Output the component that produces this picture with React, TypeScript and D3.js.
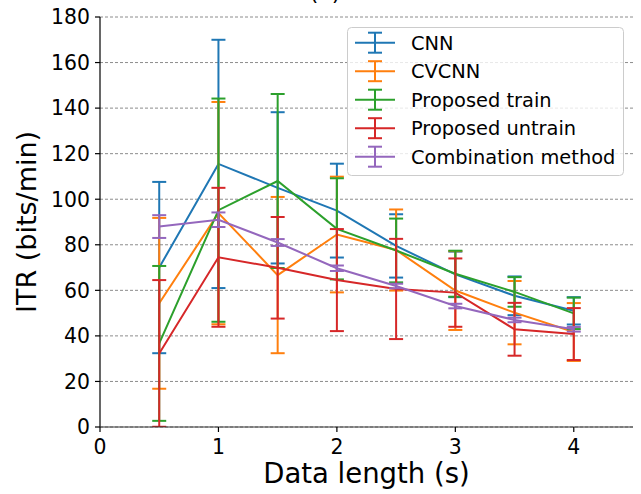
import React from "react";
import * as d3 from "d3";

const dataLength = [0.5, 1, 1.5, 2, 2.5, 3, 3.5, 4];

const cnnMean = [70, 115.5, 105, 95, 79.5, 67, 57.6, 51];
const cnnErr = [37.6, 54.5, 33.2, 20.6, 13.9, 10, 8.5, 6];

const cvcnnMean = [54.3, 93.9, 66.7, 84.5, 77.7, 59.9, 50.2, 41.7];
const cvcnnErr = [37.5, 48.8, 34.3, 25.4, 17.8, 17.3, 13.9, 12.7];

const trainMean = [36.7, 95.2, 108, 87, 77.5, 67.3, 59.3, 49.9];
const trainErr = [34, 49, 38.2, 22.2, 14, 10.1, 6.5, 6.9];

const untrainMean = [32.3, 74.5, 69.9, 64.5, 60.6, 59, 42.9, 40.8];
const untrainErr = [32.2, 30.5, 22.3, 22.4, 22, 15, 11.6, 11.4];

const comboMean = [88, 91, 81, 69.7, 61.9, 53.1, 47, 42.9];
const comboErr = [5, 3.2, 1.5, 1.2, 1, 1, 1, 1];

const seriesNames = ["CNN", "CVCNN", "Proposed train", "Proposed untrain", "Combination method"];
const seriesColors = ["#1f77b4", "#ff7f0e", "#2ca02c", "#d62728", "#9467bd"];
const yTicks = [0, 20, 40, 60, 80, 100, 120, 140, 160, 180];
const xTicks = [0, 1, 2, 3, 4];

const series = [
  { mean: cnnMean, err: cnnErr },
  { mean: cvcnnMean, err: cvcnnErr },
  { mean: trainMean, err: trainErr },
  { mean: untrainMean, err: untrainErr },
  { mean: comboMean, err: comboErr },
];

const W = 641;
const H = 494;
const margin = { top: 17, right: 8, bottom: 67, left: 100 };
const font = "DejaVu Sans, sans-serif";

export default function App() {
  const x = d3.scaleLinear().domain([0, 4.5]).range([margin.left, W - margin.right]);
  const y = d3.scaleLinear().domain([0, 180]).range([H - margin.bottom, margin.top]);

  const line = d3
    .line<number>()
    .x((_, i) => x(dataLength[i]))
    .y((d) => y(d));

  const cap = 7;

  return (
    <svg
      width={W}
      height={H}
      style={{ position: "fixed", left: 0, top: 0, background: "#fff" }}
      fontFamily={font}
    >
      <defs>
        <clipPath id="plot">
          <rect x={margin.left} y={margin.top - 10} width={W - margin.right - margin.left} height={H - margin.bottom - margin.top + 10} />
        </clipPath>
      </defs>
      <text x={325} y={0} textAnchor="middle" fontSize={22}>(a)</text>

      {/* grid */}
      {yTicks.map((t) => (
        <line
          key={"g" + t}
          x1={x(0)}
          x2={x(4.5)}
          y1={y(t)}
          y2={y(t)}
          stroke="#8c8c8c"
          strokeWidth={1}
          strokeDasharray="3,2"
        />
      ))}

      {/* series */}
      <g clipPath="url(#plot)">
        {series.map((s, si) => (
          <g key={si} stroke={seriesColors[si]} strokeWidth={2} fill="none">
            <path d={line(s.mean) || ""} />
            {s.mean.map((m, i) => {
              const cx = x(dataLength[i]);
              const lo = y(m - s.err[i]);
              const hi = y(m + s.err[i]);
              return (
                <g key={i}>
                  <line x1={cx} x2={cx} y1={lo} y2={hi} />
                  <line x1={cx - cap} x2={cx + cap} y1={lo} y2={lo} />
                  <line x1={cx - cap} x2={cx + cap} y1={hi} y2={hi} />
                </g>
              );
            })}
          </g>
        ))}
      </g>

      {/* axes */}
      <line x1={x(0)} x2={x(0)} y1={y(0)} y2={y(180)} stroke="#000" strokeWidth={1.2} />
      <line x1={x(0)} x2={x(4.5)} y1={y(0)} y2={y(0)} stroke="#333" strokeWidth={1.2} />
      {yTicks.map((t) => (
        <g key={"yt" + t}>
          <line x1={x(0) - 5} x2={x(0)} y1={y(t)} y2={y(t)} stroke="#000" strokeWidth={1.2} />
          <text x={x(0) - 10} y={y(t)} dy="0.36em" textAnchor="end" fontSize={20.4}>
            {t}
          </text>
        </g>
      ))}
      {xTicks.map((t) => (
        <g key={"xt" + t}>
          <line x1={x(t)} x2={x(t)} y1={y(0)} y2={y(0) + 5} stroke="#000" strokeWidth={1.2} />
          <text x={x(t)} y={y(0) + 27} textAnchor="middle" fontSize={20.4}>
            {t}
          </text>
        </g>
      ))}
      <text x={(x(0) + x(4.5)) / 2} y={483} textAnchor="middle" fontSize={27.5}>
        Data length (s)
      </text>
      <text
        transform={`translate(36, ${(y(0) + y(180)) / 2}) rotate(-90)`}
        textAnchor="middle"
        fontSize={27}
      >
        ITR (bits/min)
      </text>

      {/* legend */}
      <g>
        <rect x={347.5} y={27.5} width={276} height={148} rx={4} fill="#fff" fillOpacity={0.8} stroke="#ccc" strokeWidth={1} />
        {seriesNames.map((n, i) => {
          const cy = 42.7 + i * 28.5;
          return (
            <g key={n}>
              <g stroke={seriesColors[i]} strokeWidth={2}>
                <line x1={355} x2={395} y1={cy} y2={cy} />
                <line x1={375} x2={375} y1={cy - 10} y2={cy + 10} />
                <line x1={368} x2={382} y1={cy - 10} y2={cy - 10} />
                <line x1={368} x2={382} y1={cy + 10} y2={cy + 10} />
              </g>
              <text x={411} y={cy} dy="0.36em" fontSize={19.4}>
                {n}
              </text>
            </g>
          );
        })}
      </g>
    </svg>
  );
}
